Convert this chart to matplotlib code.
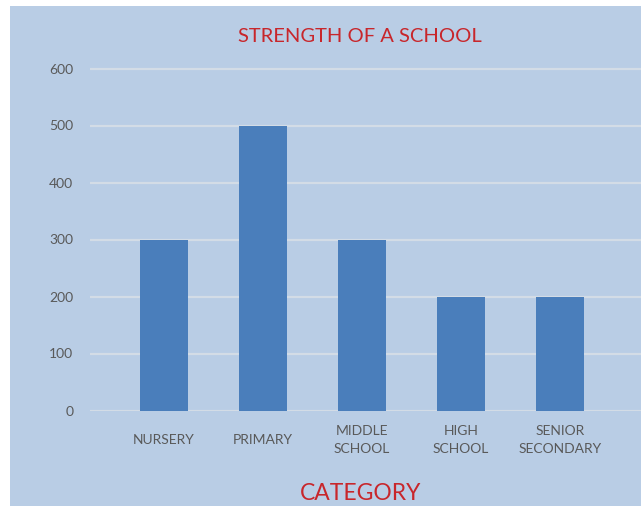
import matplotlib
matplotlib.use("Agg")
import matplotlib.pyplot as plt
from matplotlib.patches import Rectangle

categories = ["NURSERY", "PRIMARY", "MIDDLE\nSCHOOL", "HIGH\nSCHOOL", "SENIOR\nSECONDARY"]
strength = [300, 500, 300, 200, 200]
y_ticks = [0, 100, 200, 300, 400, 500, 600]

BG = "#B9CDE5"
BAR = "#4A7EBB"
GRID = "#D3DCE6"
TICK = "#595959"
RED = "#C8262B"
FONT = ["Lato", "DejaVu Sans"]

W, H = 641, 507
fig = plt.figure(figsize=(W / 100, H / 100), dpi=100)
fig.patch.set_facecolor("white")

# chart-area background panel
fig.patches.append(Rectangle((10 / W, 1 / H), (W - 10) / W, (H - 7) / H,
                             transform=fig.transFigure, facecolor=BG,
                             edgecolor="none", zorder=-5))

y_top = 620
px_per_unit = 0.57
ax_bottom_px = 410.5
ax = fig.add_axes([90 / W, (H - ax_bottom_px) / H, 551 / W, y_top * px_per_unit / H])
ax.set_zorder(2)
ax.set_facecolor("none")

x = list(range(len(categories)))
ax.bar(x, strength, width=0.485, color=BAR, zorder=3)

ax.set_xlim(-0.747, 4.818)
ax.set_ylim(0, y_top)
ax.set_yticks(y_ticks)
ax.set_yticklabels([str(v) for v in y_ticks], fontsize=10, color=TICK, family=FONT)
ax.yaxis.grid(True, color=GRID, linewidth=1.6, zorder=1)
ax.set_axisbelow(True)

ax.set_xticks(x)
ax.set_xticklabels(categories, fontsize=10, color=TICK, family=FONT,
                   linespacing=1.6)
for lbl in ax.get_xticklabels():
    lbl.set_verticalalignment("center")

ax.tick_params(axis="x", length=0, pad=21.5)
ax.tick_params(axis="y", length=0, pad=12)
for s in ax.spines.values():
    s.set_visible(False)

fig.text(360 / W, 1 - 37 / H, "STRENGTH OF A SCHOOL", ha="center", va="center",
         fontsize=14.5, color=RED, family=FONT, zorder=5)
fig.text(361 / W, 1 - 493 / H, "CATEGORY", ha="center", va="center",
         fontsize=16.5, color=RED, family=FONT, zorder=5)

fig.savefig("out.png", dpi=100, facecolor="white")
